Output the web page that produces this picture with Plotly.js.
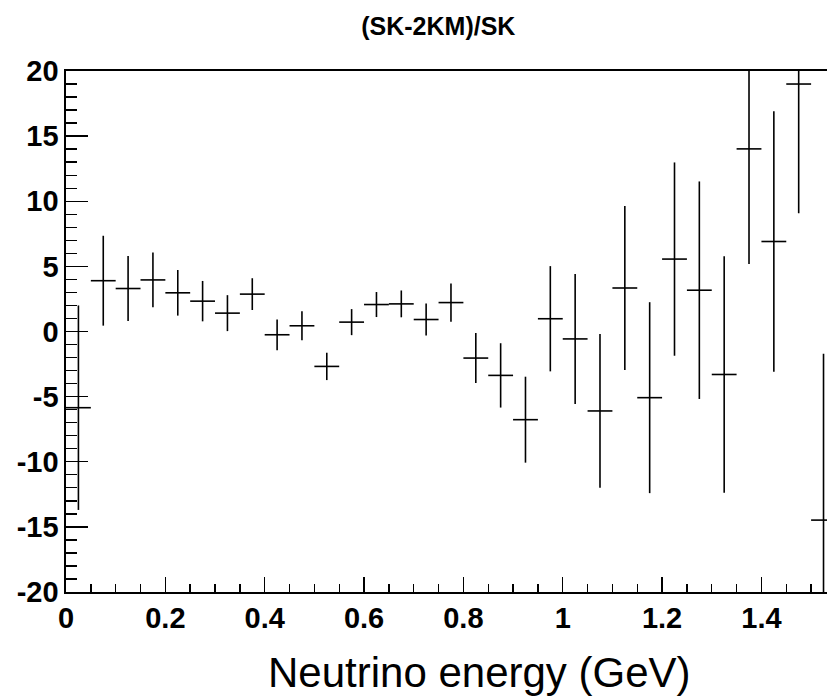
<!DOCTYPE html>
<html>
<head>
<meta charset="utf-8">
<script src="https://cdn.plot.ly/plotly-3.0.1.min.js"></script>
<style>
  html, body { margin: 0; padding: 0; background: #ffffff; overflow: hidden; }
  #chart { width: 827px; height: 699px; }
</style>
</head>
<body>
<div id="chart"></div>
<script>
// Bin centres (GeV)
var energy = [0.025, 0.075, 0.125, 0.175, 0.225, 0.275, 0.325, 0.375, 0.425, 0.475,
              0.525, 0.575, 0.625, 0.675, 0.725, 0.775, 0.825, 0.875, 0.925, 0.975,
              1.025, 1.075, 1.125, 1.175, 1.225, 1.275, 1.325, 1.375, 1.425, 1.475, 1.525];
// Half bin width (GeV)
var halfWidth = [0.025, 0.025, 0.025, 0.025, 0.025, 0.025, 0.025, 0.025, 0.025, 0.025,
                 0.025, 0.025, 0.025, 0.025, 0.025, 0.025, 0.025, 0.025, 0.025, 0.025,
                 0.025, 0.025, 0.025, 0.025, 0.025, 0.025, 0.025, 0.025, 0.025, 0.025, 0.025];
// (SK-2KM)/SK values
var ratio = [-5.85, 3.90, 3.30, 3.96, 2.97, 2.33, 1.41, 2.87, -0.25, 0.44,
             -2.68, 0.72, 2.07, 2.12, 0.92, 2.22, -2.04, -3.37, -6.77, 0.98,
             -0.57, -6.10, 3.34, -5.08, 5.56, 3.17, -3.30, 14.02, 6.91, 19.00, -14.48];
// Errors
var ratioErr = [7.85, 3.45, 2.50, 2.10, 1.75, 1.55, 1.38, 1.22, 1.18, 1.12,
                1.05, 1.00, 0.96, 1.03, 1.23, 1.47, 1.92, 2.47, 3.30, 4.04,
                4.99, 5.90, 6.30, 7.33, 7.42, 8.35, 9.08, 8.83, 10.00, 9.93, 12.77];
// Y tick labels
var yTickVals = [-20, -15, -10, -5, 0, 5, 10, 15, 20];
var yTickText = ["-20", "-15", "-10", "-5", "0", "5", "10", "15", "20"];

var tickFont = { family: "Liberation Sans, Arial, sans-serif", size: 29, color: "#000", weight: "bold" };

var trace = {
  type: "scatter",
  mode: "markers",
  x: energy,
  y: ratio,
  marker: { size: 1, color: "rgba(0,0,0,0)" },
  error_x: { type: "data", array: halfWidth, visible: true, color: "#000", thickness: 1.6, width: 0 },
  error_y: { type: "data", array: ratioErr, visible: true, color: "#000", thickness: 1.6, width: 0 },
  hoverinfo: "x+y",
  showlegend: false
};

var layout = {
  width: 827,
  height: 699,
  paper_bgcolor: "#fff",
  plot_bgcolor: "#fff",
  margin: { l: 66, r: 0, t: 71, b: 107 },
  title: {
    text: "(SK-2KM)/SK",
    font: { family: "Liberation Sans, Arial, sans-serif", size: 25, color: "#000", weight: "bold" },
    x: 0.53, xref: "container", xanchor: "center",
    y: 0.962, yref: "container", yanchor: "middle"
  },
  annotations: [{
    text: "Neutrino energy (GeV)",
    font: { family: "Liberation Sans, Arial, sans-serif", size: 42, color: "#000" },
    xref: "paper", yref: "paper",
    x: 0.543, y: -0.155,
    xanchor: "center", yanchor: "middle",
    showarrow: false
  }],
  xaxis: {
    range: [0, 1.532],
    showgrid: false,
    zeroline: false,
    showline: true,
    linecolor: "#000",
    linewidth: 1.6,
    mirror: true,
    ticks: "inside",
    ticklen: 15,
    tickwidth: 1.4,
    tickcolor: "#000",
    tick0: 0,
    dtick: 0.2,
    tickfont: tickFont,
    minor: { ticks: "inside", ticklen: 8, tickwidth: 1.4, tickcolor: "#000", dtick: 0.05, tick0: 0, showgrid: false }
  },
  yaxis: {
    range: [-20, 20],
    showgrid: false,
    zeroline: false,
    showline: true,
    linecolor: "#000",
    linewidth: 1.6,
    mirror: false,
    ticks: "inside",
    ticklen: 22,
    tickwidth: 1.4,
    tickcolor: "#000",
    tickmode: "array",
    tickvals: yTickVals,
    ticktext: yTickText,
    tickfont: tickFont,
    minor: { ticks: "inside", ticklen: 11, tickwidth: 1.4, tickcolor: "#000", tickmode: "linear", dtick: 1, tick0: 0, showgrid: false }
  }
};

Plotly.newPlot("chart", [trace], layout, { displayModeBar: false, staticPlot: true });
</script>
</body>
</html>
